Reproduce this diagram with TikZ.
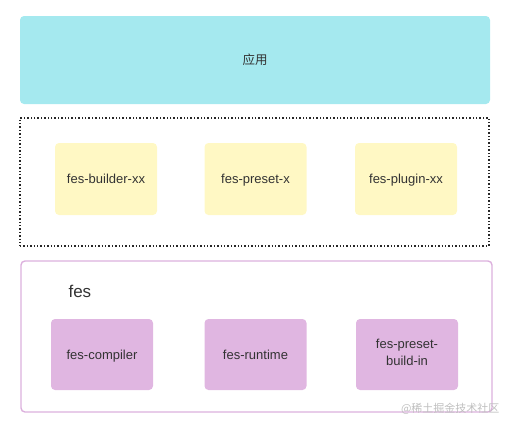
\documentclass[tikz,border=0pt]{standalone}
\usepackage{fontspec}
\setmainfont{Liberation Sans}
\newfontfamily\cjk{Noto Sans CJK SC}
\usepackage{tikz}
\usetikzlibrary{positioning}

\definecolor{appcyan}{HTML}{A5E9EF}
\definecolor{pluginyellow}{HTML}{FFF8C4}
\definecolor{corepurple}{HTML}{E0B6E1}
\definecolor{coreframe}{HTML}{DCB0DD}
\definecolor{textgray}{HTML}{333333}
\newcommand{\boxstrut}{\rule[-4pt]{0pt}{17pt}}

\begin{document}
\begin{tikzpicture}[x=1pt,y=-1pt,font=\fontsize{13}{17}\selectfont,text=textgray,
				app node/.style={rectangle,rounded corners=4pt,fill=appcyan,minimum width=470pt,minimum height=88pt,inner sep=0pt},
				plugin node/.style={rectangle,rounded corners=4pt,fill=pluginyellow,minimum width=102pt,minimum height=72pt,inner sep=0pt,align=center,execute at begin node=\boxstrut},
				core node/.style={rectangle,rounded corners=4pt,fill=corepurple,minimum width=102pt,minimum height=71pt,inner sep=0pt,align=center,execute at begin node=\boxstrut}]
				
				\useasboundingbox (0,0) rectangle (514,429);
				
				% top layer
				\node[app node] (app) at (255,60) {\cjk\fontsize{12.5}{15}\selectfont 应用};
				
				% plugin layer
				\node[draw=black!85,line width=1.4pt,dotted,minimum width=469pt,minimum height=128pt,inner sep=0pt] (plugins) at (254.5,182) {};
				\node[plugin node] (builder) at (106,179) {fes-builder-xx};
				\node[plugin node] (preset) at (255.5,179) {fes-preset-x};
				\node[plugin node] (plugin) at (406,179) {fes-plugin-xx};
				
				% core layer
				\node[draw=coreframe,line width=1.4pt,rounded corners=4pt,minimum width=471pt,minimum height=151pt,inner sep=0pt] (core) at (256.5,336.5) {};
				\node[anchor=west,font=\fontsize{17}{20}\selectfont] (fes) at (65,291) {fes};
				\node[core node] (compiler) at (102,354.5) {fes-compiler};
				\node[core node] (runtime) at (255.5,354.5) {fes-runtime};
				\node[core node] (buildin) at (407,354.5) {fes-preset-\\build-in\boxstrut};
				
				\node[anchor=east,text=black!25,font=\cjk\fontsize{11}{13}\selectfont] (mark) at (503,409) {@稀土掘金技术社区};
				
\end{tikzpicture}
\end{document}
